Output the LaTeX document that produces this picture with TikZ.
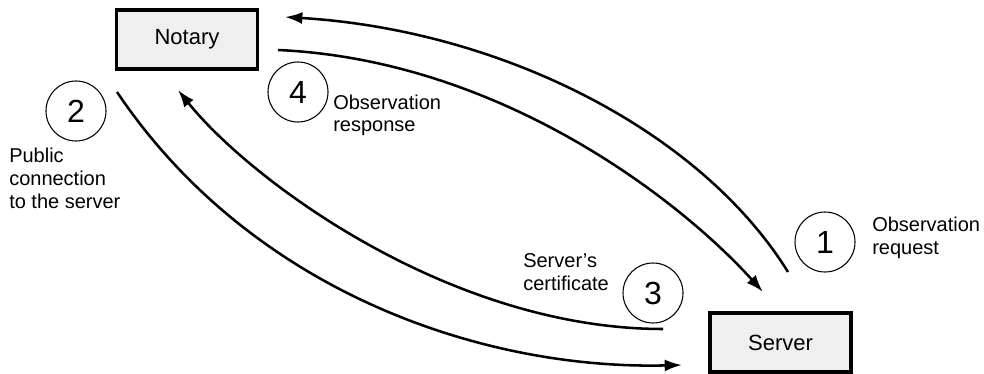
\documentclass[tikz,border=0pt]{standalone}
\usepackage{fontspec}
\setmainfont{Liberation Sans}
\usepackage{tikz}
\usetikzlibrary{arrows.meta}
\definecolor{PartyFill}{HTML}{EFEFEF}
\tikzset{
  party/.style={draw=black, line width=2.6pt, fill=PartyFill,
    minimum width=106pt, minimum height=44pt, font=\fontsize{16.5}{19}\selectfont},
  stepmark/.style={draw=black, line width=0.8pt, circle, minimum size=45pt,
    inner sep=0pt, font=\fontsize{24}{28}\selectfont},
  note/.style={align=left, inner sep=0pt, anchor=base west,
    font=\fontsize{15}{17}\selectfont},
  wire/.style={-{Latex[length=13pt, width=9pt]}, line width=1.9pt}
}

\begin{document}
\begin{tikzpicture}[x=0.75pt, y=-0.75pt]
  \useasboundingbox (0,0) rectangle (984,374);
  % the two parties
  \node[party] (notary) at (187,39.5) {Notary};
  \node[party] (server) at (780.5,342.5) {Server};
  % numbered steps
  \node[stepmark] (stepone) at (825,242) {1};
  \node[stepmark] (steptwo) at (76,111) {2};
  \node[stepmark] (stepthree) at (653,293) {3};
  \node[stepmark] (stepfour) at (298,92) {4};
  \node[note] (reqnote) at (872,254) {Observation\\request};
  \node[note] (connnote) at (9,208) {Public\\connection\\to the server};
  \node[note] (certnote) at (523,290) {Server's\\certificate};
  \node[note] (respnote) at (333,132) {Observation\\response};
  % free ends of the curves
  \coordinate (reqstart) at (788,272);
  \coordinate (reqend) at (285,17);
  \coordinate (connstart) at (117,92);
  \coordinate (connend) at (682,365);
  \coordinate (certstart) at (663,329);
  \coordinate (certend) at (178,90);
  \coordinate (respstart) at (278,50);
  \coordinate (respend) at (763,292);
  \draw[wire] (reqstart) .. controls (700,130) and (500,30) .. (reqend);
  \draw[wire] (connstart) .. controls (250,290) and (480,370) .. (connend);
  \draw[wire] (certstart) .. controls (450,329) and (250,180) .. (certend);
  \draw[wire] (respstart) .. controls (500,60) and (680,200) .. (respend);
\end{tikzpicture}
\end{document}
